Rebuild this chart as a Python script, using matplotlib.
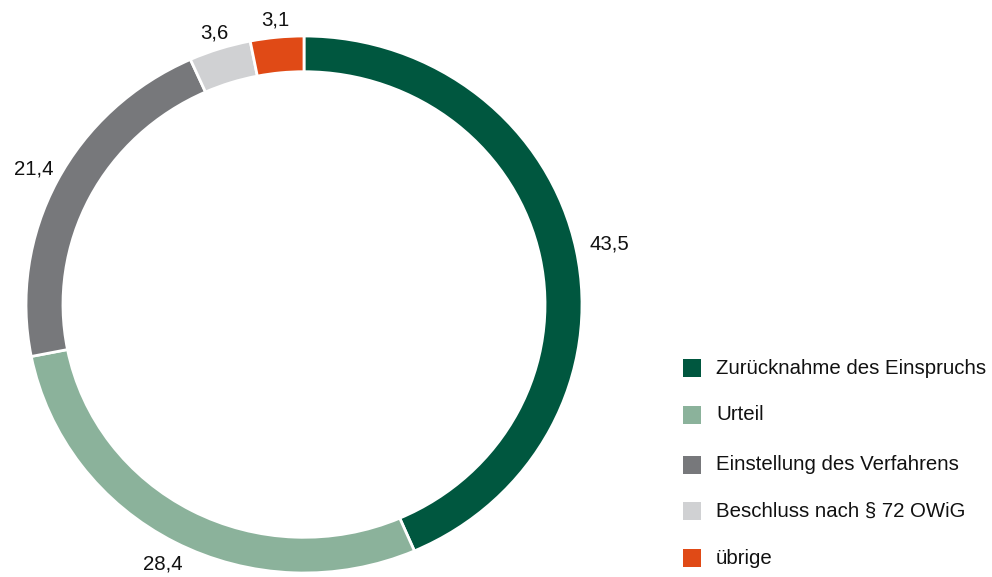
import matplotlib
matplotlib.use("Agg")
import numpy as np
import matplotlib.pyplot as plt
from matplotlib.patches import Rectangle

plt.rcParams["font.family"] = ["Liberation Sans", "DejaVu Sans"]

categories = [
    "Zurücknahme des Einspruchs",
    "Urteil",
    "Einstellung des Verfahrens",
    "Beschluss nach § 72 OWiG",
    "übrige",
]
shares = [43.5, 28.4, 21.4, 3.6, 3.1]
value_labels = ["43,5", "28,4", "21,4", "3,6", "3,1"]
colors = ["#00573f", "#8bb29b", "#77787b", "#d0d1d3", "#e04a16"]

W, H = 992, 577
fig = plt.figure(figsize=(W / 100, H / 100), dpi=100)

# ring is slightly wider than tall in the reference
cx, cy, rx, ry = 304, 304.5, 278, 268.5
ax = fig.add_axes([(cx - rx) / W, (H - cy - ry) / H, 2 * rx / W, 2 * ry / H])
wedges, _ = ax.pie(
    shares,
    colors=colors,
    startangle=90,
    counterclock=False,
    wedgeprops=dict(width=0.133, edgecolor="white", linewidth=2),
)
ax.set_aspect("auto")
ax.set_xlim(-1, 1)
ax.set_ylim(-1, 1)
ax.axis("off")

label_r = [1.12, 1.09, 1.095, 1.06, 1.065]
for w, txt, r in zip(wedges, value_labels, label_r):
    ang = np.deg2rad((w.theta1 + w.theta2) / 2)
    ax.text(r * np.cos(ang), r * np.sin(ang), txt, ha="center", va="center",
            fontsize=14.7, color="#111111", clip_on=False)

# legend on the right
row_y = [368, 415, 465, 511, 558]
sq = 18
for name, col, y in zip(categories, colors, row_y):
    fig.add_artist(Rectangle((683 / W, (H - y - sq / 2) / H), sq / W, sq / H,
                             facecolor=col, edgecolor="none",
                             transform=fig.transFigure))
    fig.text(716 / W, (H - y) / H, name, ha="left", va="center",
             fontsize=14.7, color="#111111")

fig.savefig("out.png", dpi=100, facecolor="white")
